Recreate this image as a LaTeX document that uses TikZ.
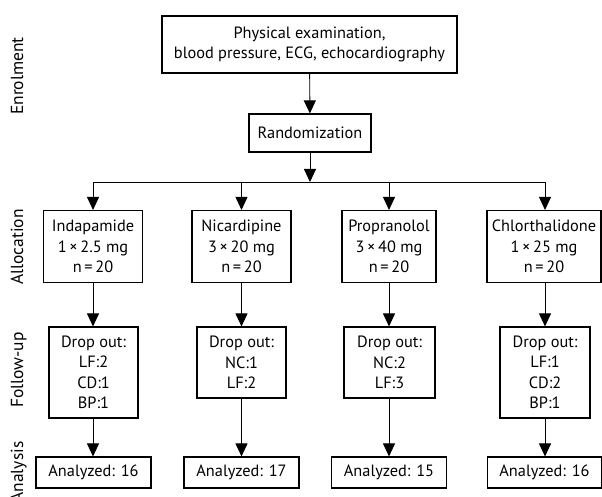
\documentclass[tikz,border=0pt]{standalone}
\usepackage{fontspec}
\setmainfont{PT Sans}
\usetikzlibrary{arrows.meta}
\begin{document}
\begin{tikzpicture}[x=1bp,y=-1bp,
  box/.style={draw, line width=1.1bp, align=center, inner sep=0pt, font=\fontsize{16.4}{20.5}\selectfont},
  arr/.style={-{Triangle[length=13bp,width=12bp]}, line width=0.9bp},
  ln/.style={line width=0.9bp},
  lab/.style={rotate=90, anchor=base, inner sep=0pt, font=\fontsize{17.5}{20}\selectfont}]
\useasboundingbox (0,0) rectangle (602,497);

\coordinate (c1) at (93,0);
\coordinate (c2) at (241.5,0);
\coordinate (c3) at (389,0);
\coordinate (c4) at (545,0);
\coordinate (split) at (310,182);

\node[box, minimum width=295bp, minimum height=57bp] (exam) at (309.5,44.5) {Physical examination,\\blood pressure, ECG, echocardiography};
\node[box, minimum width=122bp, minimum height=38bp] (rand) at (310,133) {Randomization};

\node[box, minimum width=99bp, minimum height=72bp] (a1) at (93,246.5) {Indapamide\\1\,×\,2.5 mg\\n\,=\,20};
\node[box, minimum width=99bp, minimum height=72bp] (a2) at (241.5,246.5) {Nicardipine\\3\,×\,20 mg\\n\,=\,20};
\node[box, minimum width=94bp, minimum height=72bp] (a3) at (389,246.5) {Propranolol\\3\,×\,40 mg\\n\,=\,20};
\node[box, minimum width=114bp, minimum height=72bp] (a4) at (544,246.5) {Chlorthalidone\\1\,×\,25 mg\\n\,=\,20};

\node[box, minimum width=89bp, minimum height=91bp] (d1) at (93.5,372.5) {Drop out:\\LF:2\\CD:1\\BP:1};
\node[box, minimum width=89bp, minimum height=71bp] (d2) at (241.5,362.5) {Drop out:\\NC:1\\LF:2};
\node[box, minimum width=91bp, minimum height=71bp] (d3) at (389.5,362.5) {Drop out:\\NC:2\\LF:3};
\node[box, minimum width=90bp, minimum height=91bp] (d4) at (545,372.5) {Drop out:\\LF:1\\CD:2\\BP:1};

\node[box, minimum width=115bp, minimum height=31bp] (n1) at (93.5,472.5) {Analyzed: 16};
\node[box, minimum width=115bp, minimum height=31bp] (n2) at (241.5,472.5) {Analyzed: 17};
\node[box, minimum width=115bp, minimum height=31bp] (n3) at (389,472.5) {Analyzed: 15};
\node[box, minimum width=114bp, minimum height=31bp] (n4) at (544.5,472.5) {Analyzed: 16};

\node[lab] (lenrol) at (23,76) {Enrolment};
\node[lab] (lalloc) at (23,247) {Allocation};
\node[lab] (lfollow) at (23,370) {Follow-up};
\node[lab] (lanal) at (23,472) {Analysis};

\draw[arr] (exam) -- (rand);
\draw[arr] (rand) -- (split);
\draw[ln] (split -| c1) -- (split -| c4);
\foreach \i in {1,2,3,4}{
  \draw[arr] (split -| c\i) -- (a\i.north -| c\i);
  \draw[arr] (a\i.south -| c\i) -- (d\i.north -| c\i);
  \draw[arr] (d\i.south -| c\i) -- (n\i.north -| c\i);
}
\end{tikzpicture}
\end{document}
